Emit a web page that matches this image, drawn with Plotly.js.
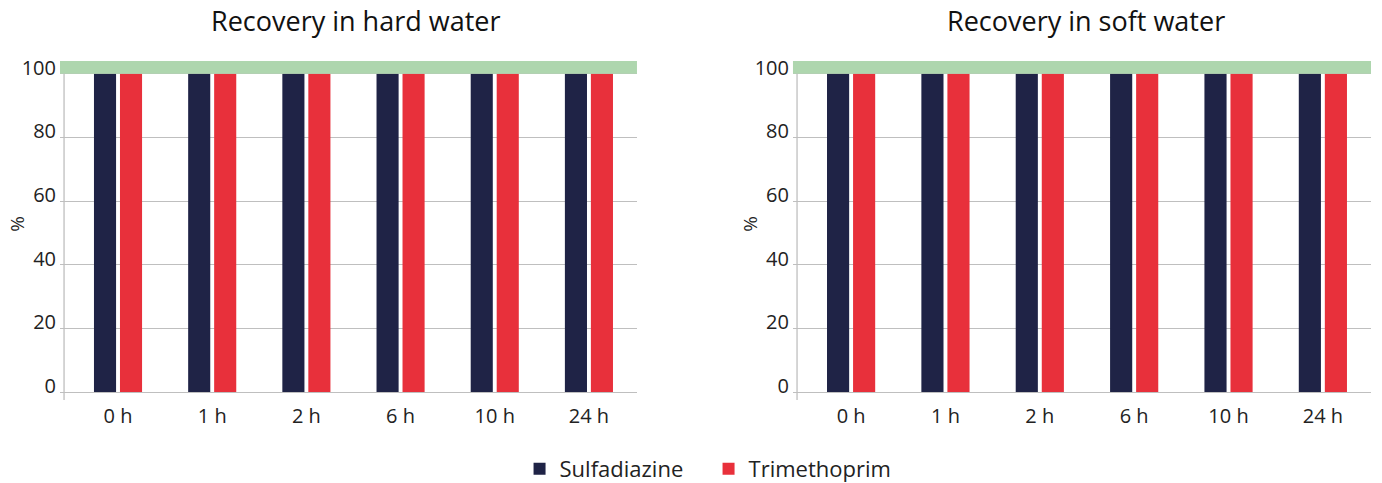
<!DOCTYPE html>
<html>
<head>
<meta charset="utf-8">
<script src="https://cdn.plot.ly/plotly-3.0.1.min.js"></script>
<style>html,body{margin:0;padding:0;background:#fff;}#chart{width:1382px;height:483px;}</style>
</head>
<body>
<div id="chart"></div>
<script>
// Data
var categories = ["0 h", "1 h", "2 h", "6 h", "10 h", "24 h"];
var hardSulfadiazine = [100, 100, 100, 100, 100, 100];
var hardTrimethoprim = [100, 100, 100, 100, 100, 100];
var softSulfadiazine = [100, 100, 100, 100, 100, 100];
var softTrimethoprim = [100, 100, 100, 100, 100, 100];
var yTicks = [0, 20, 40, 60, 80, 100];
var bandRange = [100, 104];
var titles = ["Recovery in hard water", "Recovery in soft water"];
var seriesNames = ["Sulfadiazine", "Trimethoprim"];

var FONT = "Open Sans, sans-serif";
var DARK = "#1f2346";
var RED = "#e8303b";
var GREEN = "#aed6ae";
var GRID = "#bfbfbf";

var traces = [
  {type: "bar", x: categories, y: hardSulfadiazine, name: seriesNames[0], marker: {color: DARK}, xaxis: "x", yaxis: "y", legendgroup: "s"},
  {type: "bar", x: categories, y: hardTrimethoprim, name: seriesNames[1], marker: {color: RED}, xaxis: "x", yaxis: "y", legendgroup: "t"},
  {type: "bar", x: categories, y: softSulfadiazine, name: seriesNames[0], marker: {color: DARK}, xaxis: "x2", yaxis: "y2", legendgroup: "s", showlegend: false},
  {type: "bar", x: categories, y: softTrimethoprim, name: seriesNames[1], marker: {color: RED}, xaxis: "x2", yaxis: "y2", legendgroup: "t", showlegend: false}
];

var d1 = [0, 0.4401];
var d2 = [0.5591, 1];
var xr = [-0.616, 5.51];
var yr = [-2.5, bandRange[1]];

function xax(domain, anchor) {
  return {domain: domain, anchor: anchor, type: "category", range: xr, showgrid: false, zeroline: false, showline: false,
    ticks: "", ticklabelstandoff: 2, tickfont: {family: FONT, size: 20, color: "#222"}, fixedrange: true};
}
function yax(anchor) {
  return {anchor: anchor, range: yr, tickvals: yTicks, ticktext: yTicks.map(String), showgrid: true, gridcolor: GRID, gridwidth: 1,
    zeroline: false, showline: false, ticks: "", ticklabelshift: -6, ticklabelstandoff: 3,
    tickfont: {family: FONT, size: 20, color: "#222"}, fixedrange: true};
}

var shapes = [];
[["x", "y"], ["x2", "y2"]].forEach(function (p) {
  shapes.push({type: "rect", xref: p[0] + " domain", yref: p[1], x0: 0, x1: 1, y0: bandRange[0], y1: bandRange[1],
    fillcolor: GREEN, line: {width: 0}, layer: "above"});
  shapes.push({type: "line", xref: p[0], yref: p[1], x0: -0.573, x1: -0.573, y0: yr[0], y1: bandRange[0],
    line: {color: GRID, width: 1.3}, layer: "above"});
});

var annotations = [
  {text: titles[0], xref: "paper", yref: "paper", x: (d1[0] + d1[1]) / 2, xshift: 8, y: 1, yshift: 41, xanchor: "center", yanchor: "middle", showarrow: false,
    font: {family: FONT, size: 27, color: "#111"}},
  {text: titles[1], xref: "paper", yref: "paper", x: (d2[0] + d2[1]) / 2, xshift: 4, y: 1, yshift: 41, xanchor: "center", yanchor: "middle", showarrow: false,
    font: {family: FONT, size: 27, color: "#111"}},
  {text: "%", xref: "paper", yref: "paper", x: d1[0], xshift: -43, y: 0.52, xanchor: "center", yanchor: "middle", textangle: -90, showarrow: false,
    font: {family: FONT, size: 19, color: "#222"}},
  {text: "%", xref: "paper", yref: "paper", x: d2[0], xshift: -43, y: 0.52, xanchor: "center", yanchor: "middle", textangle: -90, showarrow: false,
    font: {family: FONT, size: 19, color: "#222"}}
];

var layout = {
  width: 1382, height: 483,
  margin: {l: 60, r: 11, t: 61, b: 83, pad: 0, autoexpand: false},
  paper_bgcolor: "#fff", plot_bgcolor: "#fff",
  barmode: "group", bargap: 0.448, bargroupgap: 0.15,
  xaxis: xax(d1, "y"), yaxis: yax("x"),
  xaxis2: xax(d2, "y2"), yaxis2: yax("x2"),
  shapes: shapes, annotations: annotations,
  showlegend: true,
  legend: {orientation: "h", x: 0.4947, xanchor: "center", y: -0.2035, yanchor: "middle",
    font: {family: FONT, size: 22, color: "#222"}, itemwidth: 30, entrywidth: 144, traceorder: "normal"},
  font: {family: FONT}
};

Plotly.newPlot("chart", traces, layout, {displayModeBar: false, staticPlot: true});
</script>
</body>
</html>
